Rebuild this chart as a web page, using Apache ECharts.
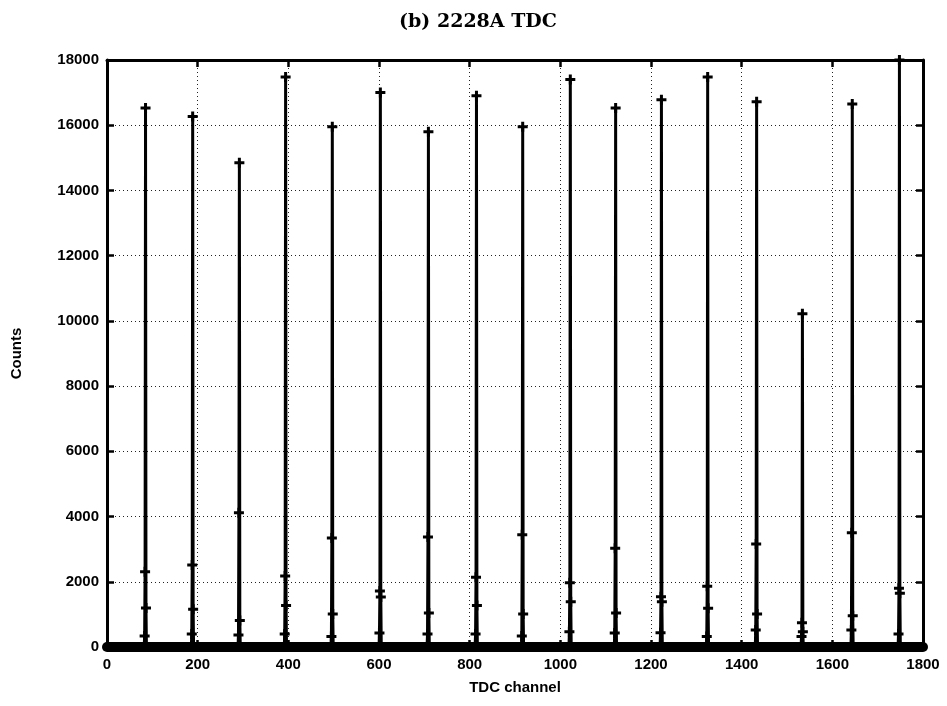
<!DOCTYPE html>
<html>
<head>
<meta charset="utf-8">
<title>(b) 2228A TDC</title>
<script src="https://cdn.jsdelivr.net/npm/echarts/dist/echarts.min.js"></script>
<style>
  html, body { margin: 0; padding: 0; background: #fff; }
  #chart { width: 947px; height: 706px; }
</style>
</head>
<body>
<div id="chart"></div>
<script>
// TDC calibration spectrum: one narrow peak per calibration delay.
// Peak channel and the counts of that channel and its neighbours.
const peakChannels  = [85, 189, 292, 394, 497, 603, 709, 815, 917, 1022, 1122, 1223, 1325, 1433, 1534, 1644, 1748];
const peakCounts    = [16530, 16270, 14850, 17480, 15950, 17000, 15800, 16900, 15950, 17400, 16530, 16780, 17480, 16720, 10220, 16650, 18000];
const shoulderHigh  = [2310, 2515, 4120, 2180, 3340, 1720, 3370, 2140, 3440, 1970, 3030, 1540, 1860, 3160, 740, 3500, 1800];
const shoulderMid   = [1195, 1160, 810, 1270, 1010, 1530, 1040, 1270, 1010, 1390, 1040, 1390, 1190, 1010, 470, 960, 1650];
const shoulderLow   = [340, 400, 370, 400, 320, 430, 400, 400, 340, 470, 430, 440, 320, 520, 320, 520, 400];
// Empty channels forming the floor of the spectrum
const floorChannels = [0, 1800];
const floorCounts   = [0, 0];

// Axis ticks
const xTicks = { min: 0, max: 1800, interval: 200 };
const yTicks = { min: 0, max: 18000, interval: 2000 };

// Build the histogram points: each peak with its neighbouring channels
const histogram = [];
peakChannels.forEach((c, i) => {
  histogram.push([c - 3, 0]);
  histogram.push([c - 2, shoulderLow[i]]);
  histogram.push([c - 1, shoulderHigh[i]]);
  histogram.push([c, peakCounts[i]]);
  histogram.push([c + 1, shoulderMid[i]]);
  histogram.push([c + 2, 0]);
});
const floor = floorChannels.map((c, i) => [c, floorCounts[i]]);

const labelFont = { fontFamily: 'Liberation Sans, Arial, sans-serif', fontWeight: 'bold', fontSize: 15, color: '#000' };
const frame = { show: true, onZero: false, lineStyle: { color: '#000', width: 3 } };
const grid = { show: true, lineStyle: { color: '#222', width: 1, type: [1, 3] } };
const tick = { show: true, inside: true, length: 7, lineStyle: { color: '#000', width: 2.5 } };
const plain = v => String(v);

// Bold "+" point marker
const plusMark = 'path://M3.5,0H6.5V3.5H10V6.5H6.5V10H3.5V6.5H0V3.5H3.5Z';

const chart = echarts.init(document.getElementById('chart'), null, { renderer: 'canvas' });
chart.setOption({
  animation: false,
  backgroundColor: '#fff',
  graphic: [{
    type: 'text', x: 478, y: 22,
    style: {
      text: '(b) 2228A TDC', textAlign: 'center', textVerticalAlign: 'middle',
      font: 'bold 19px "DejaVu Serif", "Liberation Serif", serif', fill: '#000'
    }
  }],
  grid: { left: 107, right: 24, top: 60, bottom: 59 },
  xAxis: [{
    type: 'value', position: 'bottom', ...xTicks,
    name: 'TDC channel', nameLocation: 'middle', nameGap: 33, nameTextStyle: labelFont,
    axisLine: frame, axisTick: tick, splitLine: grid,
    axisLabel: { ...labelFont, margin: 10, formatter: plain }
  }, {
    type: 'value', position: 'top', ...xTicks,
    axisLine: frame, axisTick: tick, splitLine: { show: false }, axisLabel: { show: false }
  }],
  yAxis: [{
    type: 'value', position: 'left', ...yTicks,
    name: 'Counts', nameLocation: 'middle', nameGap: 83, nameRotate: 90, nameTextStyle: labelFont,
    axisLine: frame, axisTick: tick, splitLine: grid,
    axisLabel: { ...labelFont, margin: 8, formatter: plain }
  }, {
    type: 'value', position: 'right', ...yTicks,
    axisLine: frame, axisTick: tick, splitLine: { show: false }, axisLabel: { show: false }
  }],
  series: [{
    name: 'floor', type: 'line', xAxisIndex: 0, yAxisIndex: 0,
    data: floor, clip: false, symbol: 'none',
    lineStyle: { color: '#000', width: 10, cap: 'round' }, z: 3
  }, {
    name: 'Counts', type: 'line', xAxisIndex: 0, yAxisIndex: 0,
    data: histogram, clip: true,
    symbol: plusMark, symbolSize: 10,
    itemStyle: { color: '#000' },
    lineStyle: { color: '#000', width: 3 }, z: 4
  }]
});
</script>
</body>
</html>
